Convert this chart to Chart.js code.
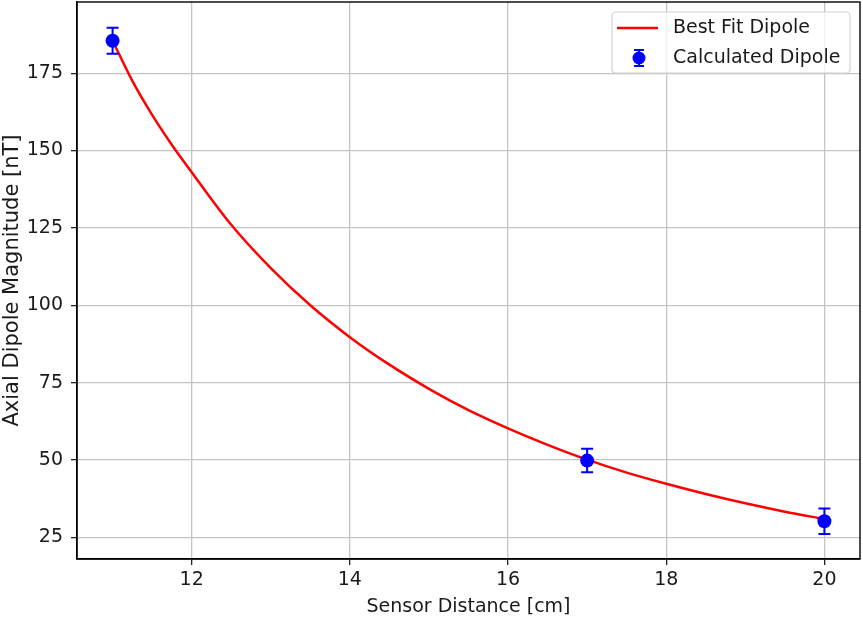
<!DOCTYPE html>
<html>
<head>
<meta charset="utf-8">
<script src="https://cdn.jsdelivr.net/npm/chart.js@4"></script>
<style>
  html, body { margin: 0; padding: 0; background: #fff; }
  #wrap { width: 863px; height: 618px; }
</style>
</head>
<body>
<div id="wrap"><canvas id="c" width="863" height="618"></canvas></div>
<script>
// ---- data ----
const fitX = [11, 11.25, 11.5, 11.75, 12, 12.5, 13, 13.5, 14, 14.5, 15, 15.5, 16, 16.5, 17, 17.5, 18, 18.5, 19, 19.5, 20];
const fitY = [185.5, 172.5, 161.5, 151.8, 143, 126, 112, 100, 89.7, 80.8, 73, 66.1, 60.2, 54.9, 50.1, 45.9, 42.3, 39, 36, 33.3, 30.9];
const pointX = [11, 17, 20];
const pointY = [185.5, 49.8, 30.2];
const pointErr = [4.2, 3.8, 4.1];
const xTicks = [12, 14, 16, 18, 20];
const yTicks = [25, 50, 75, 100, 125, 150, 175];
const fitLabel = 'Best Fit Dipole';
const pointLabel = 'Calculated Dipole';
const xTitle = 'Sensor Distance [cm]';
const yTitle = 'Axial Dipole Magnitude [nT]';

const FONT = 'DejaVu Sans';
const TXT = '#1a1a1a';
const BLUE = '#0000ff';
const RED = '#ff0000';

const errorBars = {
  id: 'errorBars',
  afterDatasetsDraw(chart) {
    const meta = chart.getDatasetMeta(0);
    const ys = chart.scales.y;
    const ctx = chart.ctx;
    ctx.save();
    ctx.strokeStyle = BLUE;
    ctx.lineWidth = 2;
    meta.data.forEach((pt, i) => {
      const top = ys.getPixelForValue(pointY[i] + pointErr[i]);
      const bot = ys.getPixelForValue(pointY[i] - pointErr[i]);
      const x = pt.x;
      ctx.beginPath();
      ctx.moveTo(x, top); ctx.lineTo(x, bot);
      ctx.moveTo(x - 6, top); ctx.lineTo(x + 6, top);
      ctx.moveTo(x - 6, bot); ctx.lineTo(x + 6, bot);
      ctx.stroke();
      ctx.beginPath();
      ctx.fillStyle = BLUE;
      ctx.arc(x, pt.y, 7, 0, Math.PI * 2);
      ctx.fill();
    });
    ctx.restore();
  }
};

const frameAndLegend = {
  id: 'frameAndLegend',
  afterDraw(chart) {
    const ctx = chart.ctx;
    const a = chart.chartArea;
    ctx.save();
    // frame
    ctx.strokeStyle = '#000';
    ctx.lineWidth = 1.4;
    ctx.strokeRect(a.left, a.top, a.right - a.left, a.bottom - a.top);
    // legend box
    const bx = a.right - 248, by = a.top + 10, bw = 238, bh = 61, r = 4;
    ctx.beginPath();
    ctx.moveTo(bx + r, by);
    ctx.lineTo(bx + bw - r, by);
    ctx.quadraticCurveTo(bx + bw, by, bx + bw, by + r);
    ctx.lineTo(bx + bw, by + bh - r);
    ctx.quadraticCurveTo(bx + bw, by + bh, bx + bw - r, by + bh);
    ctx.lineTo(bx + r, by + bh);
    ctx.quadraticCurveTo(bx, by + bh, bx, by + bh - r);
    ctx.lineTo(bx, by + r);
    ctx.quadraticCurveTo(bx, by, bx + r, by);
    ctx.closePath();
    ctx.fillStyle = 'rgba(255,255,255,0.8)';
    ctx.fill();
    ctx.strokeStyle = '#d4d4d4';
    ctx.lineWidth = 1.2;
    ctx.stroke();
    // row 1: line
    const y1 = by + 16, y2 = by + 46;
    ctx.strokeStyle = RED;
    ctx.lineWidth = 2.5;
    ctx.beginPath();
    ctx.moveTo(bx + 5, y1); ctx.lineTo(bx + 46, y1);
    ctx.stroke();
    // row 2: errorbar marker
    const mx = bx + 27;
    ctx.strokeStyle = BLUE;
    ctx.lineWidth = 2;
    ctx.beginPath();
    ctx.moveTo(mx, y2 - 8); ctx.lineTo(mx, y2 + 8);
    ctx.moveTo(mx - 5, y2 - 8); ctx.lineTo(mx + 5, y2 - 8);
    ctx.moveTo(mx - 5, y2 + 8); ctx.lineTo(mx + 5, y2 + 8);
    ctx.stroke();
    ctx.fillStyle = BLUE;
    ctx.beginPath();
    ctx.arc(mx, y2, 6.5, 0, Math.PI * 2);
    ctx.fill();
    // text
    ctx.fillStyle = TXT;
    ctx.font = '19px "' + FONT + '"';
    ctx.textBaseline = 'middle';
    ctx.textAlign = 'left';
    ctx.fillText(chart.data.datasets[1].label, bx + 61, y1);
    ctx.fillText(chart.data.datasets[0].label, bx + 61, y2);
    ctx.restore();
  }
};

new Chart(document.getElementById('c'), {
  type: 'scatter',
  data: {
    datasets: [
      {
        label: pointLabel,
        data: pointX.map((x, i) => ({ x: x, y: pointY[i] })),
        pointRadius: 0,
        pointHoverRadius: 0,
        backgroundColor: BLUE,
        borderColor: BLUE,
        showLine: false
      },
      {
        label: fitLabel,
        type: 'line',
        data: fitX.map((x, i) => ({ x: x, y: fitY[i] })),
        borderColor: RED,
        borderWidth: 2.5,
        pointRadius: 0,
        fill: false,
        cubicInterpolationMode: 'monotone'
      }
    ]
  },
  options: {
    responsive: false,
    animation: false,
    devicePixelRatio: 1,
    layout: { padding: { top: 2, right: 3, left: 0, bottom: 0 } },
    plugins: { legend: { display: false }, tooltip: { enabled: false } },
    scales: {
      x: {
        type: 'linear',
        min: 10.55,
        max: 20.45,
        afterBuildTicks: (s) => { s.ticks = xTicks.map(v => ({ value: v })); },
        afterFit: (s) => { s.height = 59; s.paddingLeft = 0; s.paddingRight = 0; },
        grid: { color: '#c4c4c4', lineWidth: 1.3, tickColor: '#222', tickLength: 6, tickWidth: 1.3 },
        border: { display: true, color: '#000', width: 1.4 },
        ticks: { color: TXT, font: { family: FONT, size: 19 }, padding: 4, maxRotation: 0 },
        title: { display: true, text: xTitle, color: TXT, font: { family: FONT, size: 19 }, padding: { top: 0, bottom: 0 } }
      },
      y: {
        type: 'linear',
        min: 18,
        max: 198,
        afterBuildTicks: (s) => { s.ticks = yTicks.map(v => ({ value: v })); },
        afterFit: (s) => { s.width = 77; s.paddingTop = 0; s.paddingBottom = 0; },
        grid: { color: '#c4c4c4', lineWidth: 1.3, tickColor: '#222', tickLength: 6, tickWidth: 1.3 },
        border: { display: true, color: '#000', width: 1.4 },
        ticks: { color: TXT, font: { family: FONT, size: 19 }, padding: 8 },
        title: { display: true, text: yTitle, color: TXT, font: { family: FONT, size: 21 }, padding: { top: 0, bottom: 0 } }
      }
    }
  },
  plugins: [errorBars, frameAndLegend]
});
</script>
</body>
</html>
